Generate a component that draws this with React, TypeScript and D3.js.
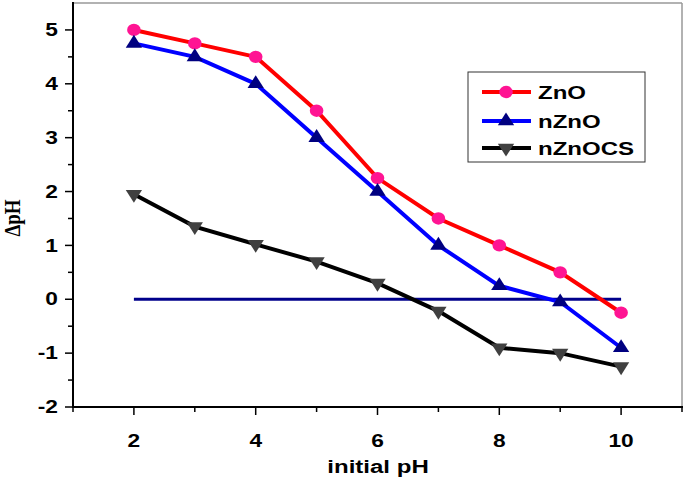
import React from "react";
import * as d3 from "d3";

const phValues = [2, 3, 4, 5, 6, 7, 8, 9, 10];
const znoValues = [5.0, 4.75, 4.5, 3.5, 2.25, 1.5, 1.0, 0.5, -0.25];
const nznoValues = [4.75, 4.5, 4.0, 3.0, 2.0, 1.0, 0.25, -0.05, -0.9];
const nznocsValues = [1.95, 1.35, 1.02, 0.7, 0.3, -0.22, -0.9, -1.0, -1.25];
const seriesNames = ["ZnO", "nZnO", "nZnOCS"];
const xTicks = [2, 4, 6, 8, 10];
const xMinorTicks = [1, 3, 5, 7, 9, 11];
const yTicks = [-2, -1, 0, 1, 2, 3, 4, 5];
const yMinorTicks = [-1.5, -0.5, 0.5, 1.5, 2.5, 3.5, 4.5];
const zeroLine = [
  { x: 2, y: 0 },
  { x: 10, y: 0 },
];

const W = 685;
const H = 482;
const left = 73;
const right = 682;
const top = 3;
const bottom = 407;
const SX = 1.3;

export default function App() {
  const x = d3.scaleLinear().domain([1, 11]).range([left, right]);
  const y = d3.scaleLinear().domain([-2, 5.5]).range([bottom, top]);

  const line = d3
    .line<number>()
    .x((_, i) => x(phValues[i]))
    .y((d) => y(d));

  const series = [
    { name: seriesNames[0], values: znoValues, line: "#ff0000", marker: "#ff1493", shape: "circle" },
    { name: seriesNames[1], values: nznoValues, line: "#0000ff", marker: "#000080", shape: "up" },
    { name: seriesNames[2], values: nznocsValues, line: "#000000", marker: "#404040", shape: "down" },
  ];

  const sym = (shape: string) =>
    shape === "circle"
      ? d3.symbol(d3.symbolCircle, 120)()
      : d3.symbol(d3.symbolTriangle, 95)();

  const marker = (shape: string, color: string, cx: number, cy: number, key: any) => (
    <path
      key={key}
      d={sym(shape) as string}
      fill={color}
      transform={`translate(${cx},${cy}) scale(1.1,1)${shape === "down" ? " rotate(180)" : ""}`}
    />
  );

  const font = "Arial, 'Liberation Sans', sans-serif";
  const legendX = 468;
  const legendY = 72;
  const legendRows = [92, 121, 148];

  const T = (
    tx: number,
    ty: number,
    label: string | number,
    anchor: string,
    size: number,
    key?: any
  ) => (
    <text
      key={key}
      transform={`translate(${tx},${ty}) scale(${SX},1)`}
      dy="0.35em"
      textAnchor={anchor}
      fontFamily={font}
      fontWeight="bold"
      fontSize={size}
    >
      {label}
    </text>
  );

  return (
    <svg
      width={W}
      height={H}
      style={{ position: "absolute", left: 0, top: 0, background: "#fff" }}
    >
      <rect x={0} y={0} width={W} height={H} fill="#fff" />
      {/* frame */}
      <line x1={left} x2={right} y1={top} y2={top} stroke="#999" strokeWidth={1.5} />
      <line x1={right} x2={right} y1={top} y2={bottom} stroke="#999" strokeWidth={1.5} />
      <line x1={left} x2={left} y1={top - 1} y2={bottom + 1} stroke="#000" strokeWidth={2} />
      <line x1={left - 1} x2={right + 1} y1={bottom} y2={bottom} stroke="#000" strokeWidth={2} />

      {/* y ticks */}
      {yTicks.map((t) => (
        <g key={"yt" + t}>
          <line x1={left - 8} x2={left} y1={y(t)} y2={y(t)} stroke="#000" strokeWidth={1.5} />
          {T(left - 15, y(t), t, "end", 17.5)}
        </g>
      ))}
      {yMinorTicks.map((t) => (
        <line key={"ym" + t} x1={left - 5} x2={left} y1={y(t)} y2={y(t)} stroke="#000" strokeWidth={1.5} />
      ))}

      {/* x ticks */}
      {xTicks.map((t) => (
        <g key={"xt" + t}>
          <line x1={x(t)} x2={x(t)} y1={bottom} y2={bottom + 8} stroke="#000" strokeWidth={1.5} />
          {T(x(t), 441, t, "middle", 17.5)}
        </g>
      ))}
      {xMinorTicks.map((t) => (
        <line key={"xm" + t} x1={x(t)} x2={x(t)} y1={bottom} y2={bottom + 5} stroke="#000" strokeWidth={1.5} />
      ))}

      {/* axis titles */}
      {T(378, 467, "initial pH", "middle", 18.5)}
      <text
        transform={`translate(12,218) scale(1.2,1) rotate(-90)`}
        dy="0.35em"
        textAnchor="middle"
        fontFamily="'Liberation Serif', 'Times New Roman', serif"
        fontWeight="bold"
        fontSize={19}
      >
        ΔpH
      </text>

      {/* zero line */}
      <line
        x1={x(zeroLine[0].x)}
        x2={x(zeroLine[1].x)}
        y1={y(zeroLine[0].y)}
        y2={y(zeroLine[1].y)}
        stroke="#00008b"
        strokeWidth={3}
      />

      {/* series */}
      {series.map((s) => (
        <g key={s.name}>
          <path d={line(s.values) as string} fill="none" stroke={s.line} strokeWidth={4} />
          {s.values.map((v, i) => marker(s.shape, s.marker, x(phValues[i]), y(v), i))}
        </g>
      ))}

      {/* legend */}
      <rect
        x={legendX}
        y={legendY}
        width={177}
        height={90}
        fill="#fff"
        stroke="#333"
        strokeWidth={1}
      />
      {series.map((s, i) => (
        <g key={"lg" + s.name}>
          <line x1={482} x2={531} y1={legendRows[i]} y2={legendRows[i]} stroke={s.line} strokeWidth={4} />
          {marker(s.shape, s.marker, 506, legendRows[i], "m")}
          {T(538, legendRows[i] + 0.5, s.name, "start", 18.5)}
        </g>
      ))}
    </svg>
  );
}
